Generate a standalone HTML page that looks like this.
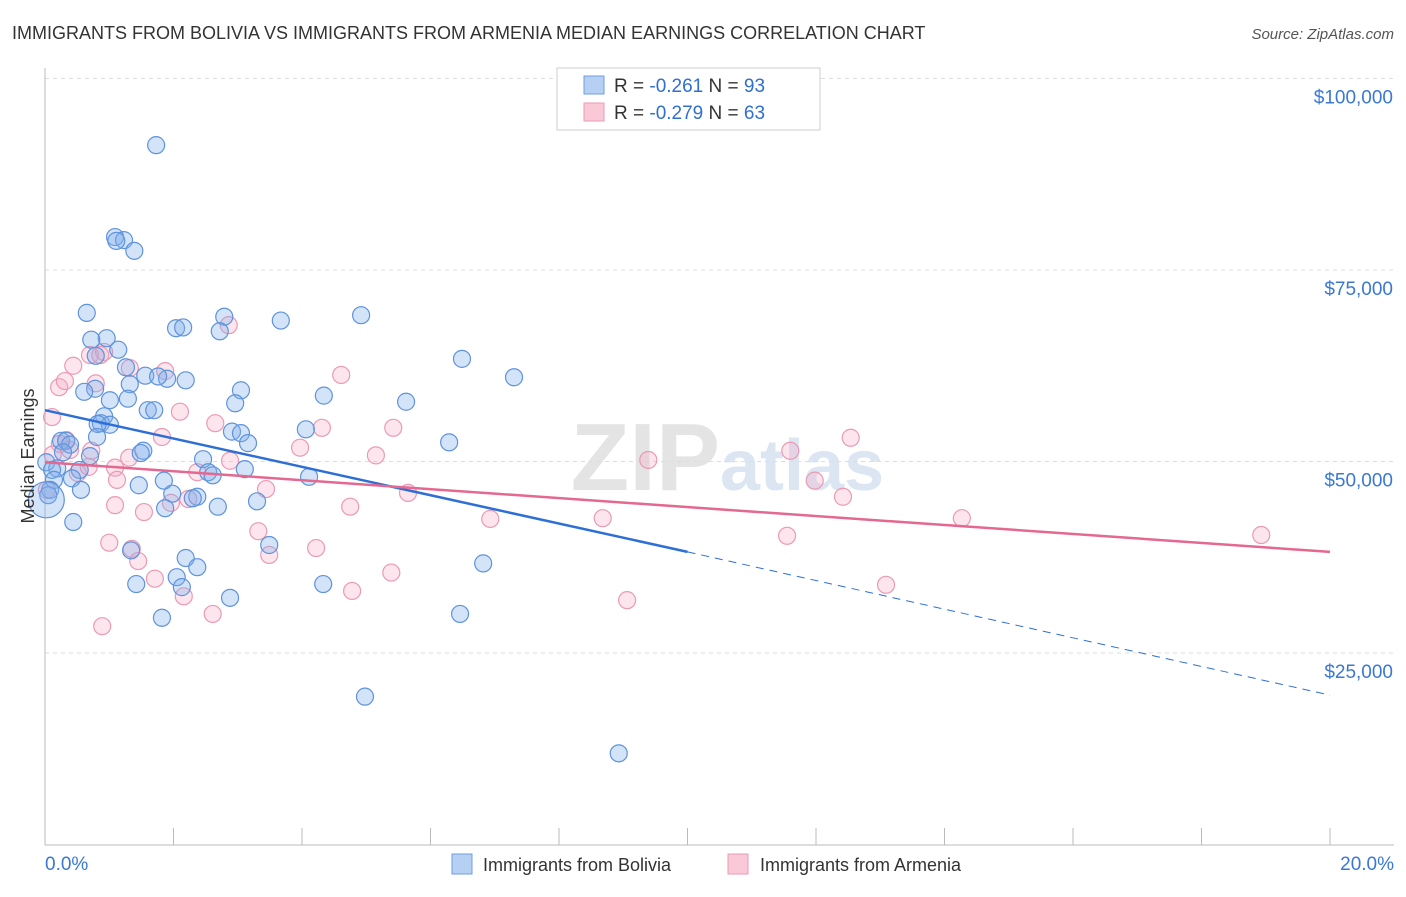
<!DOCTYPE html>
<html><head><meta charset="utf-8"><style>
body{margin:0;background:#fff;font-family:"Liberation Sans",sans-serif;}
svg text{font-family:"Liberation Sans",sans-serif;}
</style></head><body>
<svg id="chart" width="1406" height="892">
<text x="12" y="39" font-size="18" fill="#333">IMMIGRANTS FROM BOLIVIA VS IMMIGRANTS FROM ARMENIA MEDIAN EARNINGS CORRELATION CHART</text>
<text x="1394" y="39" font-size="15" fill="#555" font-style="italic" text-anchor="end">Source: ZipAtlas.com</text>
<text x="720" y="490" font-size="96" fill="#e4e4e4" font-family="Liberation Serif" text-anchor="end" font-weight="bold">ZIP</text>
<text x="720" y="490" font-size="72" fill="#dce6f3" font-weight="bold">atlas</text>
<g id="grid"></g><g id="axes"></g><g id="pts"></g><g id="trends"></g>
<text transform="translate(34,456) rotate(-90)" font-size="18" fill="#333" text-anchor="middle">Median Earnings</text>
<g>
<rect x="557" y="68" width="263" height="62" fill="#fff" stroke="#ccc"/>
<rect x="584" y="76" width="20" height="18" fill="#b5d0f3" stroke="#6f9ee0"/>
<rect x="584" y="103" width="20" height="18" fill="#f9c9d8" stroke="#ec9ab5"/>
<text x="614" y="92" font-size="19" fill="#333">R = <tspan fill="#2f6fd0">-0.261</tspan>    N = <tspan fill="#2f6fd0">93</tspan></text>
<text x="614" y="119" font-size="19" fill="#333">R = <tspan fill="#2f6fd0">-0.279</tspan>    N = <tspan fill="#2f6fd0">63</tspan></text>
</g>
<g>
<rect x="452" y="854" width="20" height="20" fill="#b5d0f3" stroke="#6f9ee0"/>
<text x="483" y="871" font-size="18" fill="#333">Immigrants from Bolivia</text>
<rect x="728" y="854" width="20" height="20" fill="#f9c9d8" stroke="#ec9ab5"/>
<text x="760" y="871" font-size="18" fill="#333">Immigrants from Armenia</text>
</g>
</svg>
<script>
const blueX=[1.73,1.09,1.23,1.11,1.39,0.65,2.79,4.92,3.67,2.04,2.15,2.72,0.96,0.72,1.14,0.79,6.49,1.26,1.56,1.90,1.76,2.19,1.32,7.30,0.78,0.61,3.05,4.34,1.29,1.01,5.62,2.96,1.60,1.70,0.92,0.87,1.01,0.82,2.91,3.05,4.06,3.16,0.81,0.25,0.33,0.39,6.29,1.53,1.49,0.28,0.70,2.46,3.11,0.02,0.19,0.11,0.54,2.54,2.61,4.11,0.42,1.85,1.46,0.56,0.14,0.08,0.05,1.98,2.37,2.30,1.87,2.69,3.30,0.44,2.19,3.49,1.34,2.37,2.05,2.13,1.42,4.33,2.88,1.82,6.46,6.82,4.98,8.93];
const blueY=[91.3,79.3,78.9,78.8,77.5,69.4,68.9,69.1,68.4,67.4,67.5,67.0,66.1,65.9,64.6,63.8,63.4,62.3,61.2,60.8,61.1,60.6,60.1,61.0,59.5,59.1,59.3,58.6,58.2,58.0,57.8,57.6,56.7,56.7,55.9,55.0,54.8,54.9,53.9,53.7,54.2,52.4,53.2,52.7,52.7,52.2,52.5,51.4,51.1,51.2,50.7,50.3,49.0,49.9,49.1,48.9,48.9,48.6,48.2,48.0,47.8,47.5,46.9,46.3,47.6,46.3,45.6,45.8,45.4,45.2,43.9,44.1,44.8,42.1,37.4,39.1,38.4,36.2,34.9,33.6,34.0,34.0,32.2,29.6,30.1,36.7,19.3,11.9];
const pinkX=[0.22,0.44,0.31,0.70,0.86,0.92,0.79,1.32,1.87,2.86,4.61,2.10,2.65,0.11,4.31,5.42,3.97,5.15,2.88,3.44,4.75,5.65,2.37,1.82,0.33,0.23,0.39,0.51,1.09,1.12,1.09,1.54,1.96,2.23,0.68,0.72,1.31,3.32,3.49,1.00,1.35,1.45,1.71,2.16,2.61,0.89,4.22,4.78,5.39,6.93,8.68,9.06,9.39,11.60,11.98,11.55,12.42,12.54,13.09,14.27,18.93,0.12,0.03];
const pinkY=[59.7,62.5,60.5,63.9,63.9,64.3,60.2,62.2,61.8,67.8,61.3,56.5,55.0,55.8,54.4,54.4,51.8,50.8,50.1,46.4,44.1,45.9,48.6,53.2,52.8,52.3,51.5,48.5,49.2,47.6,44.3,43.4,44.6,45.1,49.3,51.4,50.5,40.9,37.8,39.4,38.6,37.0,34.7,32.4,30.1,28.5,38.7,33.1,35.5,42.5,42.6,31.9,50.2,51.4,47.5,40.3,45.4,53.1,33.9,42.6,40.4,50.9,46.3];
const yTicks=[25,50,75,100];
const yTickLabels=["$25,000","$50,000","$75,000","$100,000"];
const xTicks=[0,2,4,6,8,10,12,14,16,18,20];
const blueTrend=[56.7,38.2,19.5]; // at x=0,10,20
const pinkTrend=[49.9,38.2]; // at x=0,20
const NS="http://www.w3.org/2000/svg";
const X=v=>45+v*64.25, Y=v=>844.5-v*7.66;
function mk(tag,attrs,parent){const e=document.createElementNS(NS,tag);for(const k in attrs)e.setAttribute(k,attrs[k]);document.getElementById(parent).appendChild(e);return e;}
yTicks.forEach((t,i)=>{
 const g=mk('line',{x1:45,x2:1394,y1:Y(t),y2:Y(t),stroke:'#ddd','stroke-dasharray':'4,4'},'grid');
 
 
 const l=mk('text',{x:1393,y:Y(t)+25,'font-size':19,fill:'#3a78d4','text-anchor':'end'},'grid');
 l.textContent=yTickLabels[i];
 
 
});
const ax=mk('line',{x1:45,x2:45,y1:68,y2:845,stroke:'#bbb'},'axes');


const bx=mk('line',{x1:45,x2:1394,y1:845,y2:845,stroke:'#bbb'},'axes');


xTicks.forEach(t=>{
 const k=mk('line',{x1:X(t),x2:X(t),y1:828,y2:845,stroke:'#bbb'},'axes');
 
 
});
const l0=mk('text',{x:45,y:870,'font-size':19,fill:'#3a78d4'},'axes');l0.textContent='0.0%';


const l1=mk('text',{x:1394,y:870,'font-size':19,fill:'#3a78d4','text-anchor':'end'},'axes');l1.textContent='20.0%';


pinkX.forEach((x,i)=>{
 const c=mk('circle',{cx:X(x),cy:Y(pinkY[i]),r:8.5,fill:'rgba(244,170,195,0.3)',stroke:'#eb9ab4','stroke-width':1.2},'pts');
 
 
});
blueX.forEach((x,i)=>{
 const c=mk('circle',{cx:X(x),cy:Y(blueY[i]),r:8.5,fill:'rgba(130,175,235,0.35)',stroke:'#5f93dc','stroke-width':1.2},'pts');
 
 
});
const big=mk('circle',{cx:X(0.02),cy:Y(45),r:18,fill:'rgba(130,175,235,0.35)',stroke:'#5f93dc','stroke-width':1.2},'pts');


const bt=mk('line',{x1:X(0),y1:Y(blueTrend[0]),x2:X(10),y2:Y(blueTrend[1]),stroke:'#2e6fd6','stroke-width':2.5},'trends');


const bd=mk('line',{x1:X(10),y1:Y(blueTrend[1]),x2:X(20),y2:Y(blueTrend[2]),stroke:'#2e6fd6','stroke-width':1,'stroke-dasharray':'8,6'},'trends');


const pt=mk('line',{x1:X(0),y1:Y(pinkTrend[0]),x2:X(20),y2:Y(pinkTrend[1]),stroke:'#e4688f','stroke-width':2.5},'trends');


</script>
</body></html>
